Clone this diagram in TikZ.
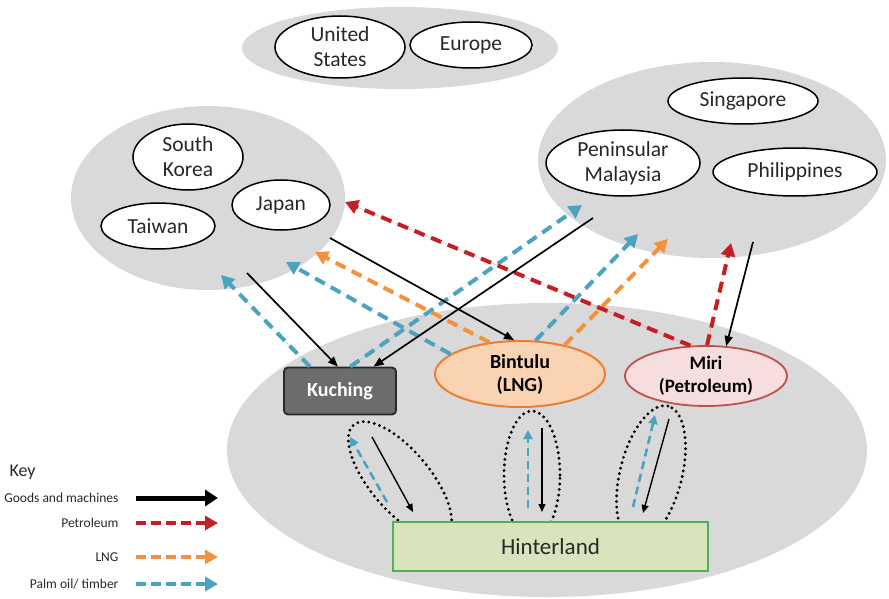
\documentclass[tikz,border=0pt]{standalone}
\usepackage{fontspec}
\setmainfont{Carlito}
\usetikzlibrary{arrows.meta,shapes.geometric}

\definecolor{zonegray}{RGB}{217,217,217}
\definecolor{ink}{RGB}{40,40,40}
\definecolor{petro}{RGB}{196,32,36}
\definecolor{lngcol}{RGB}{243,146,60}
\definecolor{palm}{RGB}{75,163,192}
\definecolor{kuchingfill}{RGB}{108,108,108}
\definecolor{lngfill}{RGB}{250,212,178}
\definecolor{lngline}{RGB}{237,125,49}
\definecolor{mirifill}{RGB}{247,222,222}
\definecolor{miriline}{RGB}{192,80,77}
\definecolor{hinterfill}{RGB}{215,228,189}
\definecolor{hinterline}{RGB}{80,175,90}

\begin{document}
\begin{tikzpicture}[x=1pt,y=-1pt,
  zone/.style={ellipse, fill=zonegray, draw=none, inner sep=0pt},
  place/.style={ellipse, draw=black, line width=1.5pt, fill=white, inner sep=0pt,
    align=center, text=ink, font=\fontsize{21.5}{25}\selectfont},
  hub/.style={ellipse, inner sep=0pt, align=center, text=black,
    font=\bfseries\fontsize{20}{23}\selectfont},
  loopring/.style={ellipse, draw=black, line width=3.2pt, dash pattern=on 0pt off 5.6pt,
    line cap=round, inner sep=0pt},
  goods/.style={draw=black, line width=1.7pt, -{Triangle[length=10pt,width=8pt]}},
  goodsin/.style={draw=black, line width=1.4pt, -{Triangle[length=8pt,width=7pt]}},
  flow/.style={line width=4pt, dash pattern=on 11pt off 7pt,
    -{Triangle[length=13pt,width=14pt]}},
  flowin/.style={line width=2.6pt, dash pattern=on 8pt off 5pt,
    -{Triangle[length=9pt,width=9pt]}},
  petroleum/.style={flow, draw=petro, fill=petro},
  lng/.style={flow, draw=lngcol, fill=lngcol},
  palmoil/.style={flow, draw=palm, fill=palm},
  palmin/.style={flowin, draw=palm, fill=palm},
  keytext/.style={anchor=east, text=ink, font=\fontsize{13.5}{16}\selectfont},
]
\useasboundingbox (0,0) rectangle (889,599);
\fill[white] (0,0) rectangle (889,599);

% grey regions
\node[zone, minimum width=316, minimum height=82] (west) at (400,48) {};
\node[zone, minimum width=274, minimum height=184] (eastasia) at (208,198) {};
\node[zone, minimum width=348, minimum height=196] (asean) at (712,160) {};
\node[zone, minimum width=640, minimum height=294] (sarawak) at (547,450) {};

% trading partners
\node[place, minimum width=130, minimum height=62] (us) at (340,47) {United\\States};
\node[place, minimum width=122, minimum height=46] (europe) at (471,45) {Europe};
\node[place, minimum width=110, minimum height=66] (korea) at (188,157) {South\\Korea};
\node[place, minimum width=98, minimum height=50] (japan) at (281,205) {Japan};
\node[place, minimum width=114, minimum height=46] (taiwan) at (158,226) {Taiwan};
\node[place, minimum width=150, minimum height=46] (singapore) at (743,101) {Singapore};
\node[place, minimum width=154, minimum height=66] (penmal) at (623,163) {Peninsular\\Malaysia};
\node[place, minimum width=164, minimum height=48] (philippines) at (795,172) {Philippines};

% links between the towns and the hinterland
\node[loopring, minimum width=144, minimum height=60, rotate=-50] (loopk) at (400,480) {};
\node[loopring, minimum width=56, minimum height=128] (loopb) at (532,475) {};
\node[loopring, minimum width=140, minimum height=62, rotate=76] (loopm) at (651,474) {};

\coordinate (lk1) at (372,437); \coordinate (lk2) at (413,512);
\coordinate (lk3) at (387,502); \coordinate (lk4) at (350,437);
\coordinate (lb1) at (542,428); \coordinate (lb2) at (542,512);
\coordinate (lb3) at (528,508); \coordinate (lb4) at (528,430);
\coordinate (lm1) at (669,419); \coordinate (lm2) at (643,513);
\coordinate (lm3) at (633,507); \coordinate (lm4) at (655,415);
\draw[goodsin] (lk1) -- (lk2);
\draw[palmin] (lk3) -- (lk4);
\draw[goodsin] (lb1) -- (lb2);
\draw[palmin] (lb3) -- (lb4);
\draw[goodsin] (lm1) -- (lm2);
\draw[palmin] (lm3) -- (lm4);

% towns and hinterland
\node[draw=hinterline, fill=hinterfill, line width=2pt, minimum width=315, minimum height=49,
  inner sep=0pt, text=ink, font=\fontsize{23}{27}\selectfont] (hinterland) at (550.5,546.5) {Hinterland};
\node[draw={rgb,255:red,40;green,40;blue,40}, fill=kuchingfill, line width=1.8pt, rounded corners=4pt,
  minimum width=112, minimum height=47, inner sep=0pt, text=white,
  font=\bfseries\fontsize{20}{24}\selectfont] (kuching) at (340,391) {Kuching};
\node[hub, draw=lngline, fill=lngfill, line width=2pt, minimum width=170, minimum height=66]
  (bintulu) at (520,374) {Bintulu\\(LNG)};
\node[hub, draw=miriline, fill=mirifill, line width=1.8pt, minimum width=162, minimum height=60,
  font=\bfseries\fontsize{19}{23}\selectfont] (miri) at (706,376) {Miri\\(Petroleum)};

% arrow ends inside the grey regions
\coordinate (ea1) at (330,238);
\coordinate (ea2) at (247,273);
\coordinate (ea3) at (345,202);
\coordinate (ea4) at (315,252);
\coordinate (ea5) at (221,275);
\coordinate (ea6) at (286,262);
\coordinate (se1) at (593,218);
\coordinate (se2) at (753,242);
\coordinate (se3) at (731,243);
\coordinate (se4) at (668,239);
\coordinate (se5) at (582,205);
\coordinate (se6) at (638,234);

% palm oil / timber
\draw[palmoil] (kuching.141) -- (ea5);
\draw[palmoil] (kuching.67) -- (se5);
\draw[palmoil] (bintulu.164) -- (ea6);
\draw[palmoil] (bintulu.65) -- (se6);
% LNG
\draw[lng] (bintulu.134) -- (ea4);
\draw[lng] (bintulu.33) -- (se4);
% petroleum
\draw[petroleum] (miri.117) -- (ea3);
\draw[petroleum] (miri.88) -- (se3);
% goods and machines
\draw[goods] (ea1) -- (bintulu.100);
\draw[goods] (ea2) -- (kuching.95);
\draw[goods] (se1) -- (kuching.36);
\draw[goods] (se2) -- (miri.56);

% key
\node[anchor=west, text=ink, font=\fontsize{18}{22}\selectfont] (keytitle) at (6,472) {Key};
\node[keytext] (kgoods) at (122,498) {Goods and machines};
\node[keytext] (kpetro) at (122,523) {Petroleum};
\node[keytext] (klng) at (122,557) {LNG};
\node[keytext] (kpalm) at (122,584) {Palm oil/ timber};
\coordinate (kg1) at (136,498); \coordinate (kg2) at (218,498);
\coordinate (kp1) at (136,523); \coordinate (kp2) at (218,523);
\coordinate (kl1) at (136,557); \coordinate (kl2) at (218,557);
\coordinate (kt1) at (136,584); \coordinate (kt2) at (218,584);
\draw[draw=black, line width=5pt, -{Triangle[length=13pt,width=16pt]}] (kg1) -- (kg2);
\draw[petroleum, dash pattern=on 10pt off 5pt] (kp1) -- (kp2);
\draw[lng, dash pattern=on 10pt off 5pt] (kl1) -- (kl2);
\draw[palmoil, dash pattern=on 10pt off 5pt] (kt1) -- (kt2);
\end{tikzpicture}
\end{document}
